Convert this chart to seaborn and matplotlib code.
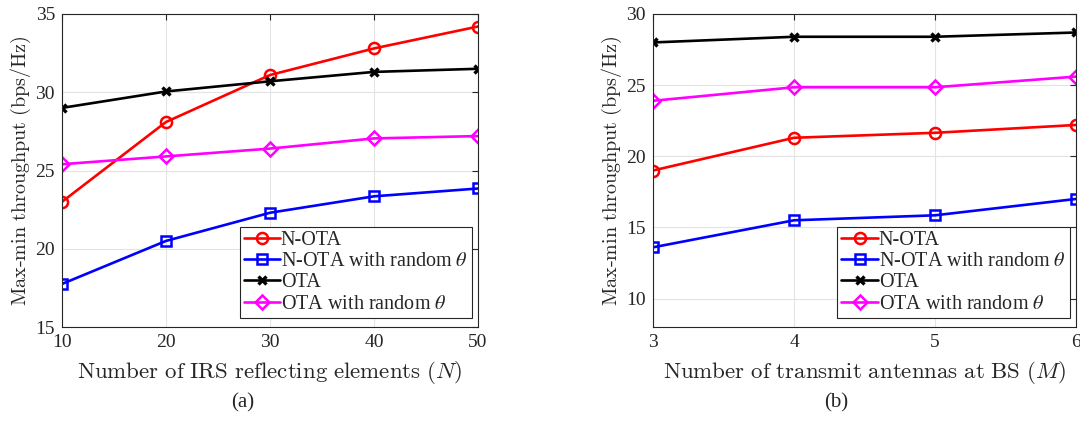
import matplotlib
matplotlib.use("Agg")
import matplotlib.pyplot as plt
import seaborn as sns
import pandas as pd

# Data
labels = ["N-OTA", r"N-OTA with random $\theta$", "OTA", r"OTA with random $\theta$"]
colors = ["#ff0000", "#0000ff", "#000000", "#ff00ff"]
markers = ["o", "s", "x", "D"]

n_elems = [10, 20, 30, 40, 50]
a_nota = [23.0, 28.1, 31.1, 32.8, 34.2]
a_nota_rand = [17.75, 20.5, 22.3, 23.35, 23.85]
a_ota = [29.0, 30.05, 30.7, 31.3, 31.5]
a_ota_rand = [25.4, 25.9, 26.4, 27.05, 27.2]

n_ant = [3, 4, 5, 6]
b_nota = [19.0, 21.3, 21.65, 22.2]
b_nota_rand = [13.6, 15.5, 15.85, 17.0]
b_ota = [28.0, 28.4, 28.4, 28.7]
b_ota_rand = [23.9, 24.85, 24.85, 25.6]

ylabel = r"$\mathrm{Max\text{-}min\ throughput\ (bps/Hz)}$"
xlabel_a = r"$\mathrm{Number\ of\ IRS\ reflecting\ elements\ }(N)$"
xlabel_b = r"$\mathrm{Number\ of\ transmit\ antennas\ at\ BS\ }(M)$"

sns.set_style("white")
plt.rcParams["font.family"] = ["Liberation Serif", "DejaVu Serif"]
plt.rcParams["mathtext.fontset"] = "stix"

fig = plt.figure(figsize=(10.8, 4.41), dpi=100)
W, H = 1080, 441
ax1 = fig.add_axes([62 / W, 1 - 327 / H, (478 - 62) / W, (327 - 14) / H])
ax2 = fig.add_axes([653 / W, 1 - 327 / H, (1076 - 653) / W, (327 - 14) / H])


def draw(ax, x, series, xlabel, xlim, ylim, xticks, yticks, legend_anchor):
    for ys, lab, c, m in zip(series, labels, colors, markers):
        df = pd.DataFrame({"x": x, "y": ys})
        if m == "x":
            kw = dict(markersize=6, markeredgewidth=2.4, markeredgecolor=c)
        else:
            ms = {"o": 8, "s": 6.5, "D": 7.5}[m]
            kw = dict(markersize=ms, markerfacecolor="none", markeredgewidth=1.8, markeredgecolor=c)
        sns.lineplot(data=df, x="x", y="y", ax=ax, color=c, marker=m, linewidth=1.9,
                     label=lab, **kw)
    ax.set_xlim(*xlim)
    ax.set_ylim(*ylim)
    ax.set_xticks(xticks)
    ax.set_yticks(yticks)
    ax.grid(True, color="#e3e3e3", linewidth=0.8)
    ax.set_axisbelow(True)
    ax.tick_params(direction="in", top=True, right=True, labelsize=14, length=4, width=0.8,
                   colors="#262626", pad=5)
    for s in ax.spines.values():
        s.set_color("#262626")
        s.set_linewidth(0.8)
    ax.set_xlabel(xlabel, fontsize=16.5, color="#262626", labelpad=6)
    ax.set_ylabel(ylabel, fontsize=14.5, color="#262626", labelpad=2)
    for t in [ax.xaxis.label, ax.yaxis.label]:
        t.set_math_fontfamily("cm")
    leg = ax.legend(loc="lower right", bbox_to_anchor=legend_anchor, fontsize=14.5,
                    frameon=True, fancybox=False, edgecolor="#262626", framealpha=1,
                    borderpad=0.2, labelspacing=0.1, handlelength=1.8, handletextpad=0.05,
                    borderaxespad=0)
    leg.get_frame().set_linewidth(0.8)


draw(ax1, n_elems, [a_nota, a_nota_rand, a_ota, a_ota_rand], xlabel_a,
     (10, 50), (15, 35), [10, 20, 30, 40, 50], [15, 20, 25, 30, 35], (0.985, 0.03))
draw(ax2, n_ant, [b_nota, b_nota_rand, b_ota, b_ota_rand], xlabel_b,
     (3, 6), (8, 30), [3, 4, 5, 6], [10, 15, 20, 25, 30], (0.985, 0.03))

fig.text(243 / W, 1 - 403 / H, "(a)", fontsize=15, ha="center", va="center")
fig.text(836 / W, 1 - 403 / H, "(b)", fontsize=15, ha="center", va="center")

fig.savefig("out.png", dpi=100, facecolor="white")
